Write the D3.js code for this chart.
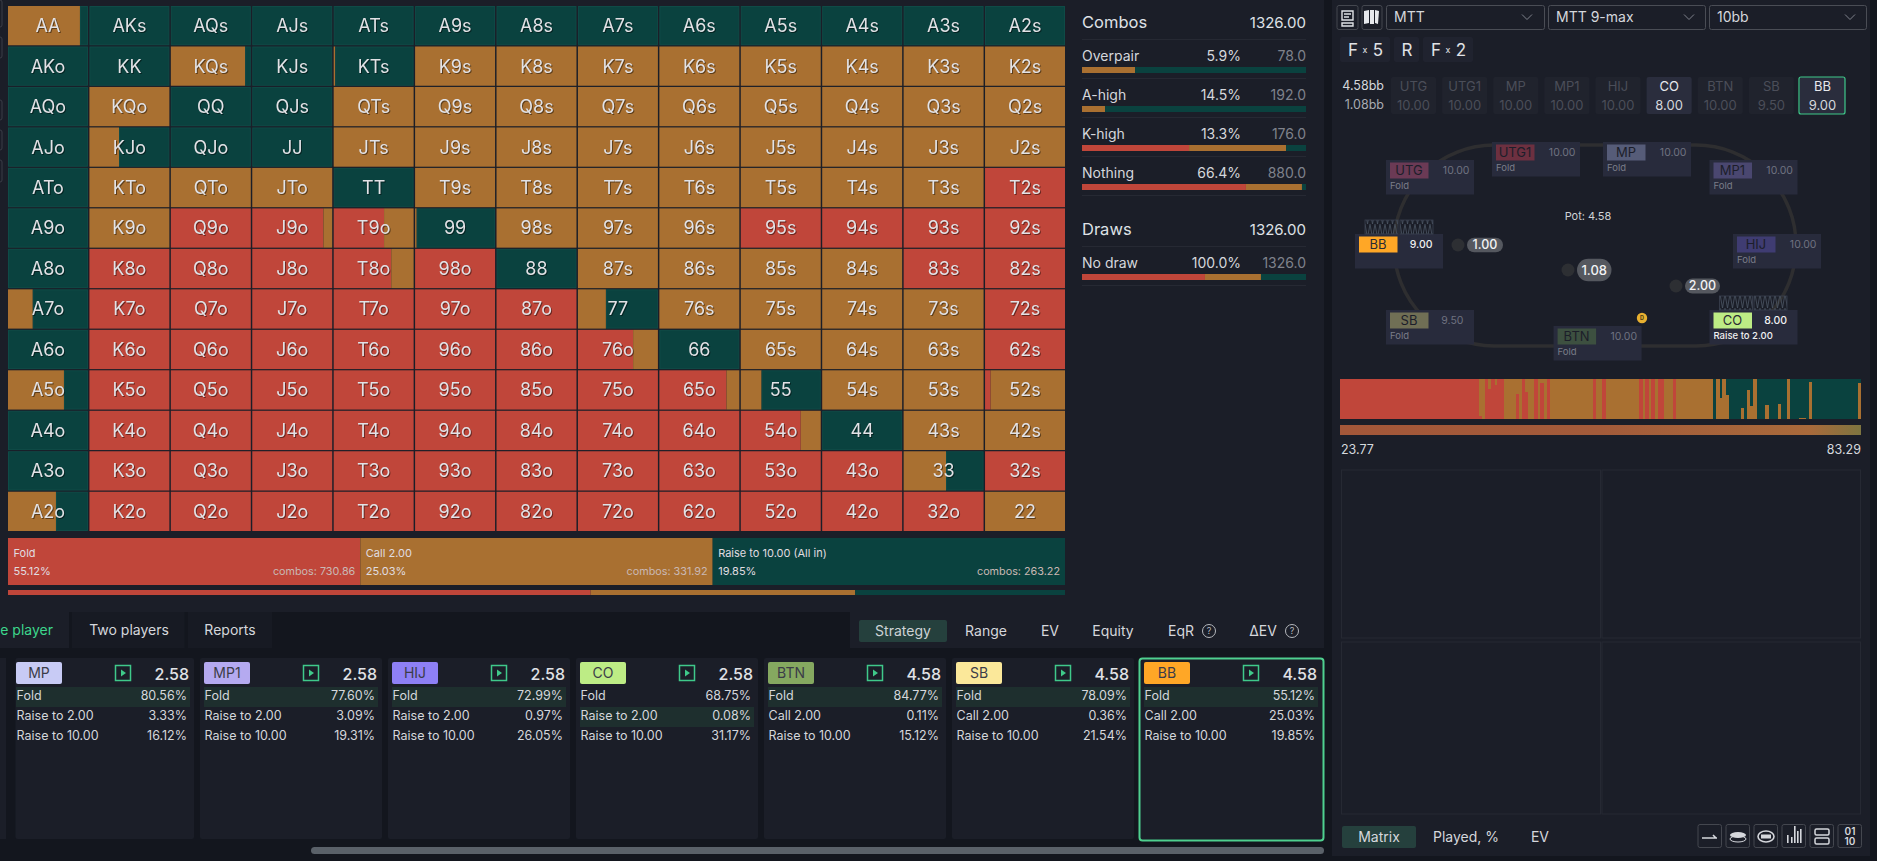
<!DOCTYPE html>
<html><head><meta charset="utf-8">
<script src="https://cdn.jsdelivr.net/npm/d3@7"></script>
<style>
html,body{margin:0;padding:0;background:#13161e;overflow:hidden}
svg{display:block;font-family:Inter,"Noto Sans",sans-serif}
.cellText{filter:drop-shadow(1px 1px 0 rgba(0,0,0,.45))}
</style></head><body><svg id="c" width="1877" height="861"></svg>
<script>
const ranks=["A","K","Q","J","T","9","8","7","6","5","4","3","2"];
const foldShare=[
[0,0,0,0,0,0,0,0,0,0,0,0,0],
[0,0,0,0,0,0,0,0,0,0,0,0,0],
[0,0,0,0,0,0,0,0,0,0,0,0,0],
[0,0,0,0,0,0,0,0,0,0,0,0,0],
[0,0,0,0,0,0,0,0,0,0,0,0,100],
[0,0,100,89,63,0,0,0,0,100,100,100,100],
[0,100,100,100,72,100,0,0,0,0,0,100,100],
[0,100,100,100,100,100,100,0,0,0,0,0,100],
[0,100,100,100,100,100,100,69,0,0,0,0,100],
[0,100,100,100,100,100,100,100,84,0,0,0,7],
[0,100,100,100,100,100,100,100,100,75,0,0,0],
[0,100,100,100,100,100,100,100,100,100,100,0,100],
[0,100,100,100,100,100,100,100,100,100,100,100,0]];
const callShare=[
[90,0,0,0,0,0,0,0,0,0,0,0,0],
[0,0,93,0,2,100,100,100,100,100,100,100,100],
[0,100,0,0,100,100,100,100,100,100,100,100,100],
[0,37,0,0,100,100,100,100,100,100,100,100,100],
[0,100,100,100,0,100,100,100,100,100,100,100,0],
[0,100,0,11,37,2,100,100,100,0,0,0,0],
[0,0,0,0,28,0,0,100,100,100,100,0,0],
[31,0,0,0,0,0,0,35,100,100,100,100,0],
[0,0,0,0,0,0,0,31,0,100,100,100,0],
[70,0,0,0,0,0,0,0,16,26,100,100,93],
[0,0,0,0,0,0,0,0,0,25,0,100,100],
[0,0,0,0,0,0,0,0,0,0,0,53,0],
[60,0,0,0,0,0,0,0,0,0,0,0,100]];
const actionNames=["Fold","Call 2.00","Raise to 10.00 (All in)"];
const actionPct=[55.12,25.03,19.85];
const actionCombos=[730.86,331.92,263.22];
const comboLabels=["Overpair","A-high","K-high","Nothing"];
const comboPct=["5.9%","14.5%","13.3%","66.4%"];
const comboCount=["78.0","192.0","176.0","880.0"];
const comboFold=[0,0,47.8,73.2];
const comboCall=[23.7,10.3,43.3,25];
const drawFold=[54.9];
const drawCall=[25];
const seatNames=["UTG","UTG1","MP","MP1","HIJ","CO","BTN","SB","BB"];
const seatStacks=["10.00","10.00","10.00","10.00","10.00","8.00","10.00","9.50","9.00"];
const seatActions=["Fold","Fold","Fold","Fold","Fold","Raise to 2.00","Fold","Fold",""];
const cardNames=["MP","MP1","HIJ","CO","BTN","SB","BB"];
const cardPots=["2.58","2.58","2.58","2.58","4.58","4.58","4.58"];
const cardActionsA=["Fold","Fold","Fold","Fold","Fold","Fold","Fold"];
const cardActionsB=["Raise to 2.00","Raise to 2.00","Raise to 2.00","Raise to 2.00","Call 2.00","Call 2.00","Call 2.00"];
const cardActionsC=["Raise to 10.00","Raise to 10.00","Raise to 10.00","Raise to 10.00","Raise to 10.00","Raise to 10.00","Raise to 10.00"];
const cardPctA=["80.56%","77.60%","72.99%","68.75%","84.77%","78.09%","55.12%"];
const cardPctB=["3.33%","3.09%","0.97%","0.08%","0.11%","0.36%","25.03%"];
const cardPctC=["16.12%","19.31%","26.05%","31.17%","15.12%","21.54%","19.85%"];
const stripFold=[
100,100,100,100,100,100,100,100,100,100,
100,100,100,100,100,100,100,100,100,100,
100,100,100,100,100,100,100,100,100,100,
100,100,100,100,100,100,100,100,100,100,
100,100,100,100,100,8,0,100,76,100,
86,100,100,0,0,0,0,63,0,100,
67,0,0,100,0,90,0,100,0,0,
0,0,0,0,0,0,0,0,0,0,
0,0,100,0,0,100,0,0,0,0,
0,0,0,0,0,0,0,100,0,100,
0,100,0,100,100,0,0,0,100,0,
0,0,0,0,0,0,0,0,0,0,
0,0,0,0,0,0,0,0,0,0,
0,0,0,0,0,0,0,0,0,0,
0,0,0,0,0,0,0,0,0,0,
0,0,0,0,0,0,0,0,0,0,
0,0,0,0,0,0,0,0,0];
const stripCall=[
0,0,0,0,0,0,0,0,0,0,
0,0,0,0,0,0,0,0,0,0,
0,0,0,0,0,0,0,0,0,0,
0,0,0,0,0,0,0,0,0,0,
0,0,0,0,0,92,100,0,24,0,
14,0,0,100,100,100,100,37,100,0,
33,100,100,0,100,10,100,0,100,100,
100,100,100,100,100,100,100,100,100,100,
100,100,0,100,100,0,100,100,100,100,
100,100,100,100,100,100,100,0,100,0,
100,0,100,0,0,100,100,100,0,100,
100,100,100,100,100,100,100,100,100,100,
100,0,100,52,100,60,0,0,0,0,
27,0,72,32,100,1,0,0,35,0,
0,0,37,0,0,100,0,0,0,2,
2,0,92,0,0,0,0,0,0,0,
0,0,0,0,0,0,0,0,90];
const stripMin="23.77", stripMax="83.29";
const tabsLeft=["e player","Two players","Reports"];
const tabsRight=["Strategy","Range","EV","Equity","EqR","ΔEV"];
const tabsBottom=["Matrix","Played, %","EV"];
const selects=["MTT","MTT 9-max","10bb"];

const RED="#c0463a",TAN="#a97031",GRN="#0a423f",BG="#1b1e28",DK="#13161e";
const svg=d3.select("#c");
function R(p,x,y,w,h,f,o){const r=p.append("rect").attr("x",x).attr("y",y).attr("width",Math.max(0,w)).attr("height",Math.max(0,h)).attr("fill",f);if(o)for(const k in o)r.attr(k,o[k]);return r;}
function T(p,x,y,s,size,fill,anchor,weight){return p.append("text").attr("x",x).attr("y",y).attr("dy","0.35em").attr("font-size",size).attr("fill",fill).attr("text-anchor",anchor||"start").attr("font-weight",weight||400).text(s);}

// backgrounds
R(svg,0,0,1877,861,DK);
R(svg,0,0,1324,612,BG);
R(svg,1332,0,538,856,BG);
[[0,27],[37,58],[100,120],[130,150],[160,182]].forEach(a=>R(svg,-6,a[0],8,a[1]-a[0],"none",{stroke:"#3a3d47",rx:2}));

// matrix
const mx=d3.scaleBand().domain(d3.range(13)).range([8,1065]).paddingInner(0.018);
const my=d3.scaleBand().domain(d3.range(13)).range([6,531]).paddingInner(0.03);
const cells=[];
ranks.forEach((r,i)=>ranks.forEach((c,j)=>cells.push({i,j,name:i==j?r+c:i<j?r+c+"s":c+r+"o",f:foldShare[i][j],c:callShare[i][j]})));
const share=d3.scaleLinear().domain([0,100]).range([0,mx.bandwidth()]);
const cg=svg.append("g").selectAll("g").data(cells).join("g").attr("transform",d=>`translate(${mx(d.j)},${my(d.i)})`);
cg.append("rect").attr("x",0).attr("width",d=>share(d.f)).attr("height",my.bandwidth()).attr("fill",RED);
cg.append("rect").attr("x",d=>share(d.f)).attr("width",d=>share(d.c)).attr("height",my.bandwidth()).attr("fill",TAN);
cg.append("rect").attr("x",d=>share(d.f+d.c)+(d.f+d.c<100?.5:0)).attr("y",.5).attr("width",d=>d.f+d.c<100?share(100-d.f-d.c)-1:0).attr("height",my.bandwidth()-1).attr("fill",GRN).attr("stroke",d=>d.f+d.c<100?"#0f4b47":"none").attr("stroke-width",1);
cg.append("text").attr("class","cellText").attr("x",mx.bandwidth()/2).attr("y",my.bandwidth()/2).attr("dy","0.36em").attr("text-anchor","middle").attr("font-size",18).attr("fill","#e2e2e6").text(d=>d.name);

// action strip
const ax=d3.scaleBand().domain(d3.range(3)).range([8,1065]);
const acols=[RED,TAN,GRN];
const ag=svg.append("g").selectAll("g").data(actionNames).join("g");
ag.append("rect").attr("x",(d,i)=>ax(i)).attr("y",538).attr("width",ax.bandwidth()).attr("height",47).attr("fill",(d,i)=>acols[i]);
ag.each(function(d,i){const g=d3.select(this);
 T(g,ax(i)+5.5,553,d,11,"#e0dde0");
 T(g,ax(i)+5.5,571,actionPct[i].toFixed(2)+"%",11,"#e0dde0");
 T(g,ax(i)+ax.bandwidth()-5,571,"combos: "+actionCombos[i].toFixed(2),10.8,"#c9b8b4","end");
});
const tb=d3.scaleLinear().domain([0,100]).range([8,1065]);
let acc=0;actionPct.forEach((p,i)=>{R(svg,tb(acc),590,tb(acc+p)-tb(acc),5,acols[i]);acc+=p;});

// stats panel
const sx=d3.scaleLinear().domain([0,100]).range([1082,1306]);
function statBar(y,f,c){R(svg,sx(0),y,sx(f)-sx(0),6,RED);R(svg,sx(f),y,sx(f+c)-sx(f),6,TAN);R(svg,sx(f+c),y,sx(100)-sx(f+c),6,GRN);}
T(svg,1082,22,"Combos",16.5,"#dfe1e6");
T(svg,1306,23,"1326.00",15,"#dfe1e6","end");
R(svg,1082,39,224,1,"#262933");
comboLabels.forEach((l,i)=>{const y=56+i*39;
 T(svg,1082,y,l,14,"#d5d7dc");T(svg,1241,y,comboPct[i],14,"#d5d7dc","end");T(svg,1306,y,comboCount[i],14,"#7f828c","end");
 statBar(67+i*39,comboFold[i],comboCall[i]);R(svg,1082,78+i*39,224,1,"#262933");});
T(svg,1082,229,"Draws",16.5,"#dfe1e6");
T(svg,1306,230,"1326.00",15,"#dfe1e6","end");
R(svg,1082,246,224,1,"#262933");
T(svg,1082,263,"No draw",14,"#d5d7dc");T(svg,1241,263,"100.0%",14,"#d5d7dc","end");T(svg,1306,263,"1326.0",14,"#7f828c","end");
statBar(274,drawFold[0],drawCall[0]);R(svg,1082,285,224,1,"#262933");

// bottom tabs
R(svg,0,600,1324,12,BG);
R(svg,0,612,69,36,BG);R(svg,72,612,112.5,36,"#171a23");R(svg,188,612,84,36,"#171a23");
T(svg,53,630,tabsLeft[0],14,"#3dd68c","end");
T(svg,129,630,tabsLeft[1],14,"#d5d7dc","middle");
T(svg,230,630,tabsLeft[2],14,"#d5d7dc","middle");
R(svg,850,612,474,36,BG);
R(svg,859,620,88,22,"#25403d",{rx:2});
const tabRX=[903,986,1050,1113,1181,1263];
tabsRight.forEach((t,i)=>T(svg,tabRX[i],631,t,14,i==0?"#cdd3d6":"#d5d7dc","middle"));
[1209,1292].forEach(x=>{svg.append("circle").attr("cx",x).attr("cy",631).attr("r",6.5).attr("fill","none").attr("stroke","#b5b8bd");T(svg,x,631,"?",9,"#b5b8bd","middle");});

// cards
R(svg,0,658,6,181,BG);
const cardX=d3.scaleLinear().domain([0,6]).range([12,1140]);
cardNames.forEach((n,i)=>{const x=cardX(i),g=svg.append("g");
 const left=Math.max(15.5,x-(i==6?1:0)),right=i==6?1324:x+182;
 R(g,left,658,right-left,181,BG,{rx:2});
 const chipC={MP:"#c8cbf5",MP1:"#b5aaf0",HIJ:"#8e80f5",CO:"#bdec85",BTN:"#85a860",SB:"#fbe89a",BB:"#ffa726"}[n];
 R(g,x+4,662,46,22,chipC,{rx:2});
 T(g,x+27,673.5,n,14,"#3b3c48","middle");
 const hi=n=="CO"?1:0;
 R(g,x+4,687+hi*20,174,20,"#1e2f2e");
 R(g,x+103.5,665.5,15,15,"none",{stroke:"#3fc98a","stroke-width":1.5});
 g.append("path").attr("d",d3.line()([[x+109,669.5],[x+109,676.5],[x+114,673]])+"Z").attr("fill","#3fc98a");
 T(g,x+177,674,cardPots[i],16,"#e0e2e6","end",500);
 const rows=[[cardActionsA[i],cardPctA[i]],[cardActionsB[i],cardPctB[i]],[cardActionsC[i],cardPctC[i]]];
 rows.forEach((r,k)=>{T(g,x+4.5,696+k*20,r[0],12.5,"#d5d7dc");T(g,x+175,696+k*20,r[1],12.5,"#d5d7dc","end");});
 if(i==6)R(g,1139.5,658.5,184,182,"none",{stroke:"#4fd08f","stroke-width":2,rx:3});
});
R(svg,311,847,1013,7,"#5a6169",{rx:3.5});

// right top
function iconBox(x,y,w,h){return R(svg,x,y,w,h,"none",{stroke:"#44474f",rx:2});}
iconBox(1337,5.5,21,24);
svg.append("path").attr("d","M1342 11h11v9h-11zM1344 14h7M1344 17h5M1342 23h11v3h-11z").attr("fill","none").attr("stroke","#e0e2e6").attr("stroke-width",1.4);
iconBox(1362,5.5,20,24);
["M1364 11l5 -1v13l-5 1z","M1370 10h4l0 14h-4z","M1375 10l4 1l-1 13l-3 -1z"].forEach(d=>svg.append("path").attr("d",d).attr("fill","#e6e8ec"));
const selX=[1386,1548,1709],selW=[158,157,157];
selects.forEach((s,i)=>{R(svg,selX[i]+.5,5.5,selW[i],24,"none",{stroke:"#4a4d55",rx:2});
 T(svg,selX[i]+8,17.5,s,14,"#d5d7dc");
 const cx=selX[i]+141;svg.append("path").attr("d",`M${cx-5} 14.5l5 5l5 -5`).attr("fill","none").attr("stroke","#7f828c");});
[[1340,50],[1394,25],[1423,50]].forEach(a=>R(svg,a[0],37,a[1],25,"#20232f",{rx:2}));
T(svg,1348,50,"F",17,"#e0e2e6");T(svg,1365,50,"x",9,"#e0e2e6","middle");T(svg,1378,50,"5",17,"#e0e2e6","middle");
T(svg,1407,50,"R",17,"#e0e2e6","middle");
T(svg,1431,50,"F",17,"#e0e2e6");T(svg,1448,50,"x",9,"#e0e2e6","middle");T(svg,1461,50,"2",17,"#e0e2e6","middle");
T(svg,1384,86,"4.58bb",12.5,"#d5d7dc","end");T(svg,1384,105,"1.08bb",12.5,"#a8abb2","end");
const seatChipX=d3.scaleLinear().domain([0,8]).range([1391,1800]);
seatNames.forEach((n,i)=>{const x=seatChipX(i),act=n=="CO"||n=="BB";
 R(svg,x,77,45,37,act?"#2a2d3d":"#20232d",{rx:2});
 T(svg,x+22.5,86,n,13,act?"#e6e8ec":"#4b4e59","middle");
 T(svg,x+22.5,105,seatStacks[i],13,act?"#d5d7dc":"#4b4e59","middle");
 if(n=="BB")R(svg,x-1,77,46,37,"none",{stroke:"#3fc98a","stroke-width":1.2,rx:2});
});

// table
R(svg,1394,145,402,201,"none",{stroke:"#2e2e30","stroke-width":3.5,rx:100,ry:100});
T(svg,1588,216,"Pot: 4.58",11,"#cfd3d6","middle");
const defs=svg.append("defs");
const pat=defs.append("pattern").attr("id","zz").attr("width",5).attr("height",14).attr("patternUnits","userSpaceOnUse");
pat.append("path").attr("d","M0 0L2.5 14L5 0").attr("fill","none").attr("stroke","#4b5563").attr("stroke-width",.8);
const box={UTG:[1386,160],UTG1:[1492,142],MP:[1603,142],MP1:[1709.5,160],HIJ:[1733,234],CO:[1709.5,310],BTN:[1553.6,326],SB:[1386,310],BB:[1355,234]};
const seatChip={UTG:"#6b3a55",UTG1:"#6d3040",MP:"#565c78",MP1:"#4a4770",HIJ:"#3f3c72",CO:"#bdec85",BTN:"#3d5040",SB:"#706f55",BB:"#ffa726"};
seatNames.forEach((n,i)=>{const b=box[n],act=n=="CO"||n=="BB";
 R(svg,b[0],b[1],88,34.5,"#282b3c");
 R(svg,b[0]+4,b[1]+2.5,38.5,16,seatChip[n]);
 T(svg,b[0]+23,b[1]+10.5,n,13,act?"#2b2b33":"#1c1e2a","middle");
 T(svg,b[0]+(seatStacks[i].length==5?83.5:77.5),b[1]+10,seatStacks[i],10.5,act?"#f0f0f2":"#6f7280","end",act?500:400);
 if(seatActions[i])T(svg,b[0]+4,b[1]+26,seatActions[i],9.5,act?"#f0f0f2":"#7a7d89","start",act?500:400);
});
[[1365,220],[1400,220],[1719.6,296],[1754,296]].forEach(c=>R(svg,c[0],c[1],33,14,"url(#zz)",{stroke:"#3b4250","stroke-width":.8}));
function bet(dx,cy,px,pw,ph,s,sz){svg.append("circle").attr("cx",dx).attr("cy",cy).attr("r",6.5).attr("fill","#2d2f33");
 R(svg,px,cy-ph/2,pw,ph,"#55585f",{rx:ph/2});T(svg,px+pw/2,cy,s,sz,"#f2f2f4","middle",500);}
bet(1458,245,1467,36,14.5,"1.00",12.5);
bet(1568,270,1577,34.5,22.5,"1.08",13);
bet(1676,286,1685,35,15,"2.00",12.5);
svg.append("circle").attr("cx",1642).attr("cy",318).attr("r",5.2).attr("fill","#e8b030");
T(svg,1642,318,"D",5.5,"#4a3a10","middle",700);

// strategy strip: one layer per action, crisp so no colour bleeds between columns
const bx=d3.scaleBand().domain(d3.range(stripFold.length)).range([1340,1861]);
const by=d3.scaleLinear().domain([0,100]).range([419,379]);
const stripG=svg.append("g").attr("shape-rendering","crispEdges");
stripG.append("g").selectAll("rect").data(stripFold).join("rect").attr("x",(d,i)=>bx(i)).attr("width",bx.bandwidth()+.4).attr("y",by(100)).attr("height",by(0)-by(100)).attr("fill",GRN);
stripG.append("g").selectAll("rect").data(stripFold).join("rect").attr("x",(d,i)=>bx(i)).attr("width",d=>bx.bandwidth()+.4).attr("y",(d,i)=>by(d+stripCall[i])).attr("height",(d,i)=>by(0)-by(stripCall[i])).attr("fill",TAN);
stripG.append("g").selectAll("rect").data(stripFold).join("rect").attr("x",(d,i)=>bx(i)).attr("width",bx.bandwidth()+.4).attr("y",d=>by(d)).attr("height",d=>by(0)-by(d)).attr("fill",RED);
const grad=defs.append("linearGradient").attr("id","gr");
[[0,"#a35739"],[.5,"#a35b3a"],[.9,"#a96a3b"],[1,"#7e7540"]].forEach(s=>grad.append("stop").attr("offset",s[0]).attr("stop-color",s[1]));
R(svg,1340,425,521,10,"url(#gr)");
T(svg,1341,450,stripMin,12.5,"#d5d9de");
T(svg,1861,450,stripMax,12.5,"#d5d9de","end");

// quadrants
[[1341.5,470,259,168],[1602,470,258.5,168],[1341.5,642,259,172],[1602,642,258.5,172]].forEach(q=>R(svg,q[0],q[1],q[2],q[3],"none",{stroke:"#262933"}));

// bottom right
R(svg,1342,826,74,22,"#25403d",{rx:2});
const tbX=[1379,1466,1540];
tabsBottom.forEach((t,i)=>T(svg,tbX[i],837.5,t,14,"#d5d7dc","middle"));
const ix=d3.scaleLinear().domain([0,5]).range([1698,1838]);
d3.range(6).forEach(i=>iconBox(ix(i),824.5,23.5,23));
const ic="#d5d7dc";
svg.append("path").attr("d",`M${ix(0)+4} 838h15M${ix(0)+15} 835l3 3`).attr("fill","none").attr("stroke",ic).attr("stroke-width",1.6);
svg.append("ellipse").attr("cx",ix(1)+12).attr("cy",835).attr("rx",8).attr("ry",3).attr("fill",ic);
svg.append("ellipse").attr("cx",ix(1)+12).attr("cy",839).attr("rx",8).attr("ry",3).attr("fill","none").attr("stroke",ic);
svg.append("ellipse").attr("cx",ix(2)+12).attr("cy",836.5).attr("rx",8).attr("ry",5.5).attr("fill","none").attr("stroke",ic).attr("stroke-width",1.6);
R(svg,ix(2)+7,834.5,10,4,ic);
[[4,8],[8,6],[11,17],[14,12],[17,14]].forEach((b,k)=>R(svg,ix(3)+b[0]+1,844-b[1]-1,1.6,b[1],ic));
R(svg,ix(4)+5,829,14,6,"none",{stroke:ic,"stroke-width":1.5,rx:1.5});
R(svg,ix(4)+5,838,14,6,"none",{stroke:ic,"stroke-width":1.5,rx:1.5});
T(svg,ix(5)+12,831,"01",10,ic,"middle",600);T(svg,ix(5)+12,841,"10",10,ic,"middle",600);
</script></body></html>
